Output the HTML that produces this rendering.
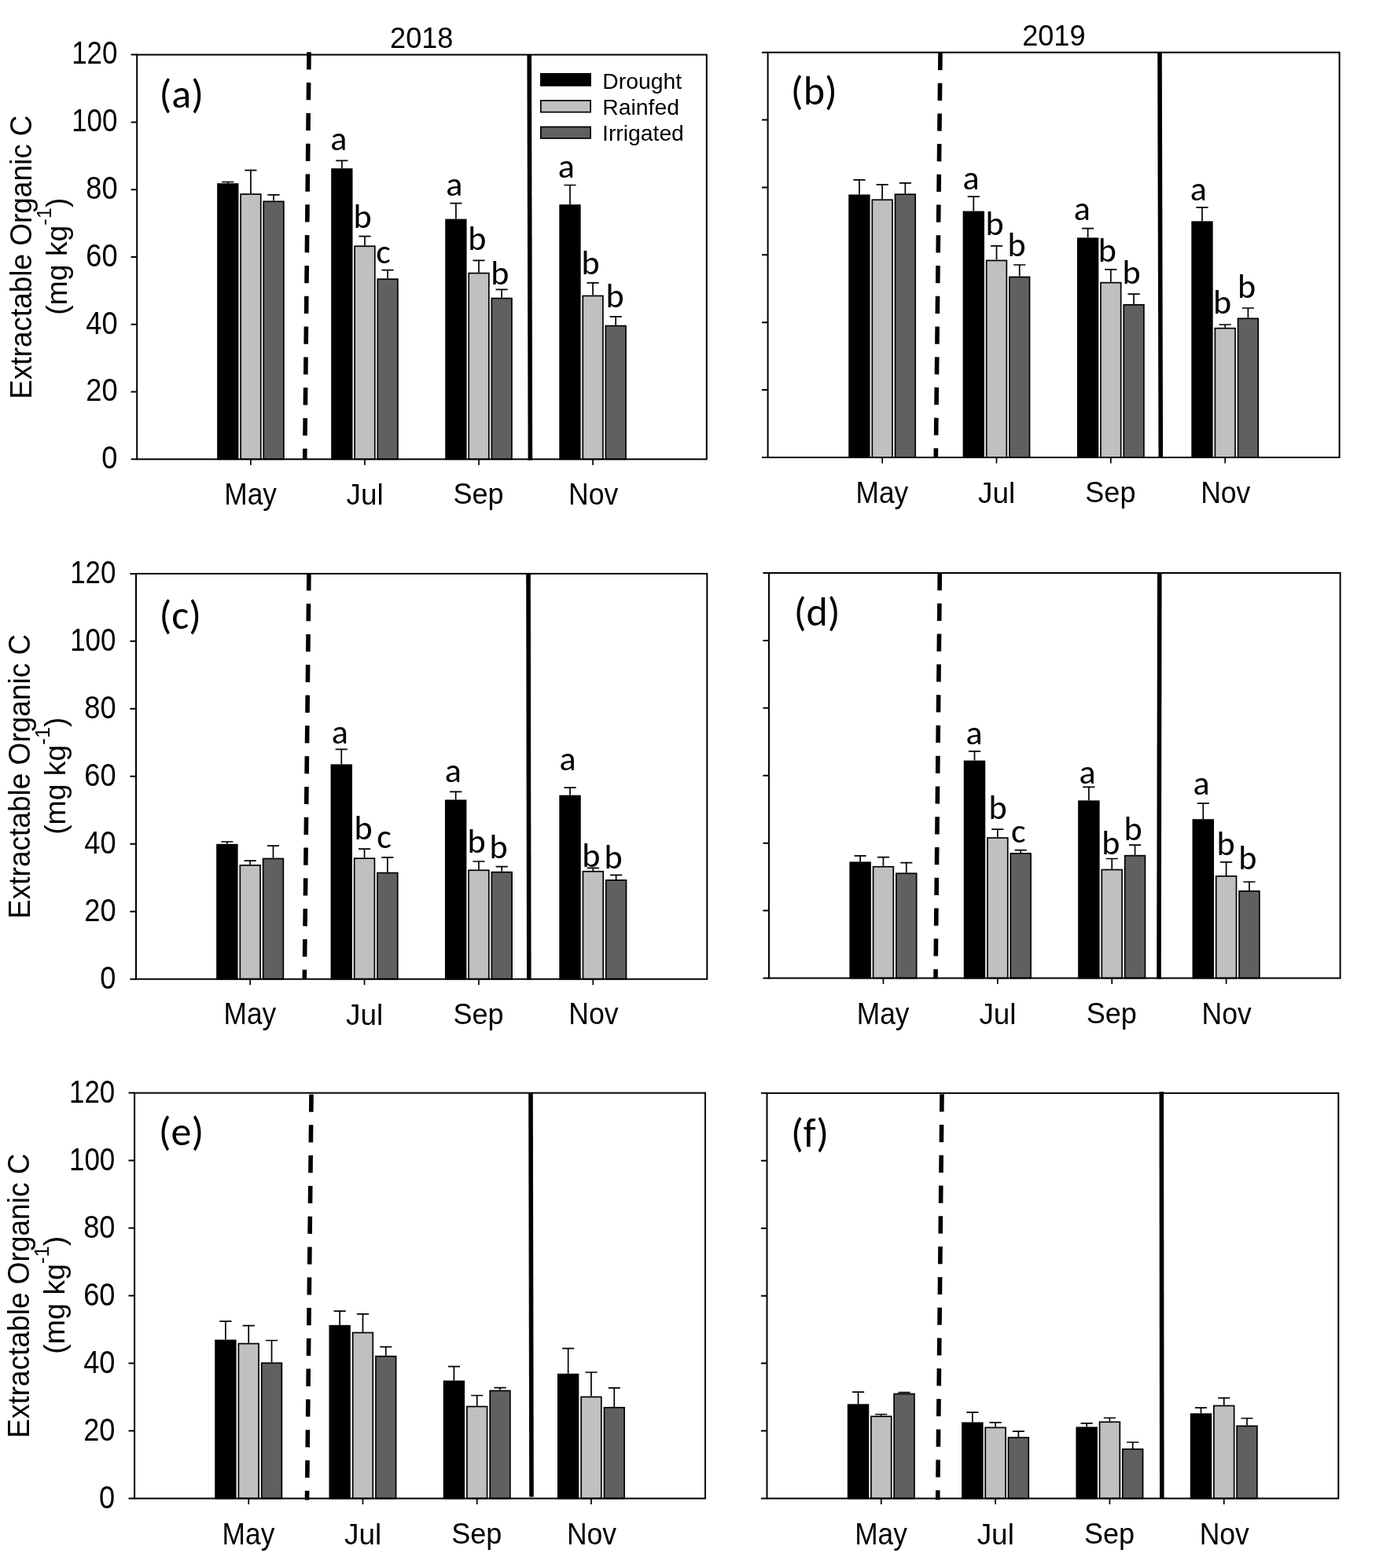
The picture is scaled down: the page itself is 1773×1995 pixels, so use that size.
<!DOCTYPE html>
<html><head><meta charset="utf-8"><title>Extractable Organic C</title>
<style>html,body{margin:0;padding:0;background:#fff;} svg{display:block;} text{fill:#000;}</style>
</head><body>
<svg xmlns="http://www.w3.org/2000/svg" width="1773" height="1995" viewBox="0 0 1773 1995">
<rect x="0" y="0" width="1773" height="1995" fill="#fff"/>
<g id="panel-a">
<rect x="276.99" y="234.05" width="25.62" height="350.25" fill="#000000" stroke="#000" stroke-width="1.7"/>
<path d="M289.80 233.20V231.50M282.20 231.50H297.40" stroke="#000" stroke-width="1.7" fill="none"/>
<rect x="306.10" y="247.05" width="25.62" height="337.25" fill="#c0c0c0" stroke="#000" stroke-width="1.7"/>
<path d="M318.91 246.20V216.60M311.31 216.60H326.51" stroke="#000" stroke-width="1.7" fill="none"/>
<rect x="335.21" y="256.35" width="25.62" height="327.95" fill="#606060" stroke="#000" stroke-width="1.7"/>
<path d="M348.02 255.50V247.90M340.42 247.90H355.62" stroke="#000" stroke-width="1.7" fill="none"/>
<rect x="422.04" y="215.05" width="25.62" height="369.25" fill="#000000" stroke="#000" stroke-width="1.7"/>
<path d="M434.85 214.20V204.40M427.25 204.40H442.45" stroke="#000" stroke-width="1.7" fill="none"/>
<rect x="451.15" y="313.25" width="25.62" height="271.05" fill="#c0c0c0" stroke="#000" stroke-width="1.7"/>
<path d="M463.96 312.40V300.60M456.36 300.60H471.56" stroke="#000" stroke-width="1.7" fill="none"/>
<rect x="480.26" y="355.15" width="25.62" height="229.15" fill="#606060" stroke="#000" stroke-width="1.7"/>
<path d="M493.07 354.30V343.70M485.47 343.70H500.67" stroke="#000" stroke-width="1.7" fill="none"/>
<rect x="567.09" y="279.45" width="25.62" height="304.85" fill="#000000" stroke="#000" stroke-width="1.7"/>
<path d="M579.90 278.60V258.70M572.30 258.70H587.50" stroke="#000" stroke-width="1.7" fill="none"/>
<rect x="596.20" y="347.55" width="25.62" height="236.75" fill="#c0c0c0" stroke="#000" stroke-width="1.7"/>
<path d="M609.01 346.70V331.30M601.41 331.30H616.61" stroke="#000" stroke-width="1.7" fill="none"/>
<rect x="625.31" y="379.55" width="25.62" height="204.75" fill="#606060" stroke="#000" stroke-width="1.7"/>
<path d="M638.12 378.70V368.40M630.52 368.40H645.72" stroke="#000" stroke-width="1.7" fill="none"/>
<rect x="712.14" y="261.05" width="25.62" height="323.25" fill="#000000" stroke="#000" stroke-width="1.7"/>
<path d="M724.95 260.20V235.50M717.35 235.50H732.55" stroke="#000" stroke-width="1.7" fill="none"/>
<rect x="741.25" y="376.45" width="25.62" height="207.85" fill="#c0c0c0" stroke="#000" stroke-width="1.7"/>
<path d="M754.06 375.60V359.80M746.46 359.80H761.66" stroke="#000" stroke-width="1.7" fill="none"/>
<rect x="770.36" y="414.55" width="25.62" height="169.75" fill="#606060" stroke="#000" stroke-width="1.7"/>
<path d="M783.17 413.70V402.90M775.57 402.90H790.77" stroke="#000" stroke-width="1.7" fill="none"/>
<rect x="174.20" y="69.60" width="724.60" height="514.70" fill="none" stroke="#000" stroke-width="2"/>
<path d="M166.60 584.30H174.20M166.60 498.52H174.20M166.60 412.73H174.20M166.60 326.95H174.20M166.60 241.17H174.20M166.60 155.38H174.20M166.60 69.60H174.20" stroke="#000" stroke-width="2" fill="none"/>
<path d="M318.91 584.30V591.80M463.96 584.30V591.80M609.01 584.30V591.80M754.06 584.30V591.80" stroke="#000" stroke-width="1.7" fill="none"/>
<text transform="translate(285.29,641.60) scale(0.9157,1)" font-family="Liberation Sans" font-size="38.56">May</text>
<text transform="translate(440.52,642.23) scale(0.9927,1)" font-family="Liberation Sans" font-size="37.16">Jul</text>
<text transform="translate(576.51,641.13) scale(0.9617,1)" font-family="Liberation Sans" font-size="37.47">Sep</text>
<text transform="translate(723.02,641.81) scale(0.9103,1)" font-family="Liberation Sans" font-size="39.00">Nov</text>
<line x1="393.0" y1="66.3" x2="387.7" y2="584.3" stroke="#000" stroke-width="5.6" stroke-dasharray="22.2 16.61"/>
<line x1="673.2" y1="69.6" x2="674.4" y2="585.5" stroke="#000" stroke-width="5.6"/>
<text transform="translate(420.14,191.30) scale(1.0000,1)" font-family="Carlito" font-size="44.00">a</text>
<text transform="translate(449.52,290.20) scale(1.0000,1)" font-family="Carlito" font-size="44.00">b</text>
<text transform="translate(478.28,334.80) scale(1.0000,1)" font-family="Carlito" font-size="44.00">c</text>
<text transform="translate(567.34,248.70) scale(1.0000,1)" font-family="Carlito" font-size="44.00">a</text>
<text transform="translate(595.32,318.20) scale(1.0000,1)" font-family="Carlito" font-size="44.00">b</text>
<text transform="translate(624.32,362.30) scale(1.0000,1)" font-family="Carlito" font-size="44.00">b</text>
<text transform="translate(709.84,226.00) scale(1.0000,1)" font-family="Carlito" font-size="44.00">a</text>
<text transform="translate(739.42,348.90) scale(1.0000,1)" font-family="Carlito" font-size="44.00">b</text>
<text transform="translate(770.52,391.40) scale(1.0000,1)" font-family="Carlito" font-size="44.00">b</text>
<text transform="translate(202.56,136.82) scale(1.0000,1)" font-family="Carlito" font-size="52.00">(a)</text>
<text transform="translate(129.27,596.10) scale(0.9022,1)" font-family="Liberation Sans" font-size="40.14">0</text>
<text transform="translate(109.35,510.32) scale(0.9022,1)" font-family="Liberation Sans" font-size="40.14">20</text>
<text transform="translate(109.35,424.53) scale(0.9022,1)" font-family="Liberation Sans" font-size="40.14">40</text>
<text transform="translate(109.35,338.75) scale(0.9022,1)" font-family="Liberation Sans" font-size="40.14">60</text>
<text transform="translate(109.35,252.97) scale(0.9022,1)" font-family="Liberation Sans" font-size="40.14">80</text>
<text transform="translate(91.21,167.18) scale(0.8665,1)" font-family="Liberation Sans" font-size="40.28">100</text>
<text transform="translate(91.21,81.40) scale(0.8665,1)" font-family="Liberation Sans" font-size="40.28">120</text>
</g>
<g id="panel-b">
<rect x="1080.10" y="248.35" width="25.67" height="333.65" fill="#000000" stroke="#000" stroke-width="1.7"/>
<path d="M1092.94 247.50V228.80M1085.34 228.80H1100.54" stroke="#000" stroke-width="1.7" fill="none"/>
<rect x="1109.31" y="254.25" width="25.67" height="327.75" fill="#c0c0c0" stroke="#000" stroke-width="1.7"/>
<path d="M1122.15 253.40V234.90M1114.55 234.90H1129.75" stroke="#000" stroke-width="1.7" fill="none"/>
<rect x="1138.53" y="247.25" width="25.67" height="334.75" fill="#606060" stroke="#000" stroke-width="1.7"/>
<path d="M1151.36 246.40V232.90M1143.76 232.90H1158.96" stroke="#000" stroke-width="1.7" fill="none"/>
<rect x="1225.45" y="269.45" width="25.67" height="312.55" fill="#000000" stroke="#000" stroke-width="1.7"/>
<path d="M1238.29 268.60V250.10M1230.69 250.10H1245.89" stroke="#000" stroke-width="1.7" fill="none"/>
<rect x="1254.66" y="331.45" width="25.67" height="250.55" fill="#c0c0c0" stroke="#000" stroke-width="1.7"/>
<path d="M1267.50 330.60V312.80M1259.90 312.80H1275.10" stroke="#000" stroke-width="1.7" fill="none"/>
<rect x="1283.87" y="352.45" width="25.67" height="229.55" fill="#606060" stroke="#000" stroke-width="1.7"/>
<path d="M1296.71 351.60V337.00M1289.11 337.00H1304.31" stroke="#000" stroke-width="1.7" fill="none"/>
<rect x="1370.79" y="303.25" width="25.67" height="278.75" fill="#000000" stroke="#000" stroke-width="1.7"/>
<path d="M1383.63 302.40V290.60M1376.03 290.60H1391.23" stroke="#000" stroke-width="1.7" fill="none"/>
<rect x="1400.01" y="359.65" width="25.67" height="222.35" fill="#c0c0c0" stroke="#000" stroke-width="1.7"/>
<path d="M1412.84 358.80V342.80M1405.24 342.80H1420.44" stroke="#000" stroke-width="1.7" fill="none"/>
<rect x="1429.22" y="387.75" width="25.67" height="194.25" fill="#606060" stroke="#000" stroke-width="1.7"/>
<path d="M1442.06 386.90V374.10M1434.46 374.10H1449.66" stroke="#000" stroke-width="1.7" fill="none"/>
<rect x="1516.14" y="282.25" width="25.67" height="299.75" fill="#000000" stroke="#000" stroke-width="1.7"/>
<path d="M1528.98 281.40V263.90M1521.38 263.90H1536.58" stroke="#000" stroke-width="1.7" fill="none"/>
<rect x="1545.35" y="417.65" width="25.67" height="164.35" fill="#c0c0c0" stroke="#000" stroke-width="1.7"/>
<path d="M1558.19 416.80V413.00M1550.59 413.00H1565.79" stroke="#000" stroke-width="1.7" fill="none"/>
<rect x="1574.57" y="405.25" width="25.67" height="176.75" fill="#606060" stroke="#000" stroke-width="1.7"/>
<path d="M1587.40 404.40V392.00M1579.80 392.00H1595.00" stroke="#000" stroke-width="1.7" fill="none"/>
<rect x="976.60" y="66.70" width="727.00" height="515.30" fill="none" stroke="#000" stroke-width="2"/>
<path d="M969.00 582.00H976.60M969.00 496.12H976.60M969.00 410.23H976.60M969.00 324.35H976.60M969.00 238.47H976.60M969.00 152.58H976.60M969.00 66.70H976.60" stroke="#000" stroke-width="2" fill="none"/>
<path d="M1122.15 582.00V589.50M1267.50 582.00V589.50M1412.84 582.00V589.50M1558.19 582.00V589.50" stroke="#000" stroke-width="1.7" fill="none"/>
<text transform="translate(1088.53,639.80) scale(0.9157,1)" font-family="Liberation Sans" font-size="38.56">May</text>
<text transform="translate(1244.06,640.43) scale(0.9927,1)" font-family="Liberation Sans" font-size="37.16">Jul</text>
<text transform="translate(1380.34,639.33) scale(0.9617,1)" font-family="Liberation Sans" font-size="37.47">Sep</text>
<text transform="translate(1527.15,640.01) scale(0.9103,1)" font-family="Liberation Sans" font-size="39.00">Nov</text>
<line x1="1196.0" y1="67.0" x2="1190.3" y2="582.0" stroke="#000" stroke-width="5.6" stroke-dasharray="22.2 16.52"/>
<line x1="1475.0" y1="66.4" x2="1476.3" y2="582.0" stroke="#000" stroke-width="5.6"/>
<text transform="translate(1224.44,240.90) scale(1.0000,1)" font-family="Carlito" font-size="44.00">a</text>
<text transform="translate(1253.42,298.80) scale(1.0000,1)" font-family="Carlito" font-size="44.00">b</text>
<text transform="translate(1281.52,325.70) scale(1.0000,1)" font-family="Carlito" font-size="44.00">b</text>
<text transform="translate(1365.64,280.20) scale(1.0000,1)" font-family="Carlito" font-size="44.00">a</text>
<text transform="translate(1396.72,332.80) scale(1.0000,1)" font-family="Carlito" font-size="44.00">b</text>
<text transform="translate(1427.52,361.10) scale(1.0000,1)" font-family="Carlito" font-size="44.00">b</text>
<text transform="translate(1513.64,254.70) scale(1.0000,1)" font-family="Carlito" font-size="44.00">a</text>
<text transform="translate(1542.92,398.90) scale(1.0000,1)" font-family="Carlito" font-size="44.00">b</text>
<text transform="translate(1574.02,379.00) scale(1.0000,1)" font-family="Carlito" font-size="44.00">b</text>
<text transform="translate(1005.86,133.12) scale(1.0000,1)" font-family="Carlito" font-size="52.00">(b)</text>
</g>
<g id="panel-c">
<rect x="276.01" y="1074.65" width="25.74" height="171.05" fill="#000000" stroke="#000" stroke-width="1.7"/>
<path d="M288.88 1073.80V1071.00M281.28 1071.00H296.48" stroke="#000" stroke-width="1.7" fill="none"/>
<rect x="305.30" y="1100.95" width="25.74" height="144.75" fill="#c0c0c0" stroke="#000" stroke-width="1.7"/>
<path d="M318.17 1100.10V1095.20M310.57 1095.20H325.77" stroke="#000" stroke-width="1.7" fill="none"/>
<rect x="334.59" y="1092.45" width="25.74" height="153.25" fill="#606060" stroke="#000" stroke-width="1.7"/>
<path d="M347.46 1091.60V1076.10M339.86 1076.10H355.06" stroke="#000" stroke-width="1.7" fill="none"/>
<rect x="421.40" y="973.25" width="25.74" height="272.45" fill="#000000" stroke="#000" stroke-width="1.7"/>
<path d="M434.27 972.40V953.30M426.67 953.30H441.87" stroke="#000" stroke-width="1.7" fill="none"/>
<rect x="450.68" y="1092.15" width="25.74" height="153.55" fill="#c0c0c0" stroke="#000" stroke-width="1.7"/>
<path d="M463.55 1091.30V1080.10M455.95 1080.10H471.15" stroke="#000" stroke-width="1.7" fill="none"/>
<rect x="479.97" y="1110.55" width="25.74" height="135.15" fill="#606060" stroke="#000" stroke-width="1.7"/>
<path d="M492.84 1109.70V1090.80M485.24 1090.80H500.44" stroke="#000" stroke-width="1.7" fill="none"/>
<rect x="566.78" y="1018.35" width="25.74" height="227.35" fill="#000000" stroke="#000" stroke-width="1.7"/>
<path d="M579.65 1017.50V1007.30M572.05 1007.30H587.25" stroke="#000" stroke-width="1.7" fill="none"/>
<rect x="596.07" y="1107.25" width="25.74" height="138.45" fill="#c0c0c0" stroke="#000" stroke-width="1.7"/>
<path d="M608.94 1106.40V1096.00M601.34 1096.00H616.54" stroke="#000" stroke-width="1.7" fill="none"/>
<rect x="625.35" y="1109.65" width="25.74" height="136.05" fill="#606060" stroke="#000" stroke-width="1.7"/>
<path d="M638.22 1108.80V1102.60M630.62 1102.60H645.82" stroke="#000" stroke-width="1.7" fill="none"/>
<rect x="712.16" y="1012.55" width="25.74" height="233.15" fill="#000000" stroke="#000" stroke-width="1.7"/>
<path d="M725.03 1011.70V1002.20M717.43 1002.20H732.63" stroke="#000" stroke-width="1.7" fill="none"/>
<rect x="741.45" y="1108.75" width="25.74" height="136.95" fill="#c0c0c0" stroke="#000" stroke-width="1.7"/>
<path d="M754.32 1107.90V1104.40M746.72 1104.40H761.92" stroke="#000" stroke-width="1.7" fill="none"/>
<rect x="770.74" y="1119.85" width="25.74" height="125.85" fill="#606060" stroke="#000" stroke-width="1.7"/>
<path d="M783.61 1119.00V1113.40M776.01 1113.40H791.21" stroke="#000" stroke-width="1.7" fill="none"/>
<rect x="173.00" y="729.90" width="726.30" height="515.80" fill="none" stroke="#000" stroke-width="2"/>
<path d="M165.40 1245.70H173.00M165.40 1159.73H173.00M165.40 1073.77H173.00M165.40 987.80H173.00M165.40 901.83H173.00M165.40 815.87H173.00M165.40 729.90H173.00" stroke="#000" stroke-width="2" fill="none"/>
<path d="M318.17 1245.70V1253.20M463.55 1245.70V1253.20M608.94 1245.70V1253.20M754.32 1245.70V1253.20" stroke="#000" stroke-width="1.7" fill="none"/>
<text transform="translate(284.55,1303.20) scale(0.9157,1)" font-family="Liberation Sans" font-size="38.56">May</text>
<text transform="translate(440.12,1303.83) scale(0.9927,1)" font-family="Liberation Sans" font-size="37.16">Jul</text>
<text transform="translate(576.44,1302.73) scale(0.9617,1)" font-family="Liberation Sans" font-size="37.47">Sep</text>
<text transform="translate(723.28,1303.41) scale(0.9103,1)" font-family="Liberation Sans" font-size="39.00">Nov</text>
<line x1="392.9" y1="729.3" x2="387.3" y2="1245.7" stroke="#000" stroke-width="5.6" stroke-dasharray="22.2 16.61"/>
<line x1="672.0" y1="729.9" x2="672.8" y2="1246.5" stroke="#000" stroke-width="5.6"/>
<text transform="translate(421.84,945.70) scale(1.0000,1)" font-family="Carlito" font-size="44.00">a</text>
<text transform="translate(450.42,1068.00) scale(1.0000,1)" font-family="Carlito" font-size="44.00">b</text>
<text transform="translate(479.28,1079.00) scale(1.0000,1)" font-family="Carlito" font-size="44.00">c</text>
<text transform="translate(565.64,995.10) scale(1.0000,1)" font-family="Carlito" font-size="44.00">a</text>
<text transform="translate(594.52,1085.10) scale(1.0000,1)" font-family="Carlito" font-size="44.00">b</text>
<text transform="translate(622.52,1091.90) scale(1.0000,1)" font-family="Carlito" font-size="44.00">b</text>
<text transform="translate(711.44,980.20) scale(1.0000,1)" font-family="Carlito" font-size="44.00">a</text>
<text transform="translate(740.22,1102.50) scale(1.0000,1)" font-family="Carlito" font-size="44.00">b</text>
<text transform="translate(768.52,1104.50) scale(1.0000,1)" font-family="Carlito" font-size="44.00">b</text>
<text transform="translate(202.56,800.02) scale(1.0000,1)" font-family="Carlito" font-size="52.00">(c)</text>
<text transform="translate(127.27,1257.60) scale(0.9022,1)" font-family="Liberation Sans" font-size="40.14">0</text>
<text transform="translate(107.35,1171.63) scale(0.9022,1)" font-family="Liberation Sans" font-size="40.14">20</text>
<text transform="translate(107.35,1085.67) scale(0.9022,1)" font-family="Liberation Sans" font-size="40.14">40</text>
<text transform="translate(107.35,999.70) scale(0.9022,1)" font-family="Liberation Sans" font-size="40.14">60</text>
<text transform="translate(107.35,913.73) scale(0.9022,1)" font-family="Liberation Sans" font-size="40.14">80</text>
<text transform="translate(89.21,827.76) scale(0.8665,1)" font-family="Liberation Sans" font-size="40.28">100</text>
<text transform="translate(89.21,741.80) scale(0.8665,1)" font-family="Liberation Sans" font-size="40.28">120</text>
</g>
<g id="panel-d">
<rect x="1081.20" y="1097.25" width="25.79" height="147.25" fill="#000000" stroke="#000" stroke-width="1.7"/>
<path d="M1094.10 1096.40V1088.90M1086.50 1088.90H1101.70" stroke="#000" stroke-width="1.7" fill="none"/>
<rect x="1110.54" y="1102.75" width="25.79" height="141.75" fill="#c0c0c0" stroke="#000" stroke-width="1.7"/>
<path d="M1123.44 1101.90V1090.70M1115.84 1090.70H1131.04" stroke="#000" stroke-width="1.7" fill="none"/>
<rect x="1139.88" y="1111.25" width="25.79" height="133.25" fill="#606060" stroke="#000" stroke-width="1.7"/>
<path d="M1152.77 1110.40V1097.60M1145.17 1097.60H1160.37" stroke="#000" stroke-width="1.7" fill="none"/>
<rect x="1226.59" y="968.45" width="25.79" height="276.05" fill="#000000" stroke="#000" stroke-width="1.7"/>
<path d="M1239.49 967.60V955.80M1231.89 955.80H1247.09" stroke="#000" stroke-width="1.7" fill="none"/>
<rect x="1255.93" y="1066.05" width="25.79" height="178.45" fill="#c0c0c0" stroke="#000" stroke-width="1.7"/>
<path d="M1268.83 1065.20V1055.10M1261.23 1055.10H1276.43" stroke="#000" stroke-width="1.7" fill="none"/>
<rect x="1285.27" y="1085.85" width="25.79" height="158.65" fill="#606060" stroke="#000" stroke-width="1.7"/>
<path d="M1298.16 1085.00V1081.70M1290.56 1081.70H1305.76" stroke="#000" stroke-width="1.7" fill="none"/>
<rect x="1371.98" y="1019.25" width="25.79" height="225.25" fill="#000000" stroke="#000" stroke-width="1.7"/>
<path d="M1384.88 1018.40V1001.30M1377.28 1001.30H1392.48" stroke="#000" stroke-width="1.7" fill="none"/>
<rect x="1401.32" y="1106.55" width="25.79" height="137.95" fill="#c0c0c0" stroke="#000" stroke-width="1.7"/>
<path d="M1414.22 1105.70V1092.50M1406.62 1092.50H1421.82" stroke="#000" stroke-width="1.7" fill="none"/>
<rect x="1430.66" y="1088.65" width="25.79" height="155.85" fill="#606060" stroke="#000" stroke-width="1.7"/>
<path d="M1443.55 1087.80V1075.20M1435.95 1075.20H1451.15" stroke="#000" stroke-width="1.7" fill="none"/>
<rect x="1517.37" y="1043.05" width="25.79" height="201.45" fill="#000000" stroke="#000" stroke-width="1.7"/>
<path d="M1530.27 1042.20V1022.20M1522.67 1022.20H1537.87" stroke="#000" stroke-width="1.7" fill="none"/>
<rect x="1546.71" y="1114.75" width="25.79" height="129.75" fill="#c0c0c0" stroke="#000" stroke-width="1.7"/>
<path d="M1559.61 1113.90V1096.80M1552.01 1096.80H1567.21" stroke="#000" stroke-width="1.7" fill="none"/>
<rect x="1576.05" y="1133.75" width="25.79" height="110.75" fill="#606060" stroke="#000" stroke-width="1.7"/>
<path d="M1588.94 1132.90V1122.00M1581.34 1122.00H1596.54" stroke="#000" stroke-width="1.7" fill="none"/>
<rect x="978.00" y="729.00" width="726.60" height="515.50" fill="none" stroke="#000" stroke-width="2"/>
<path d="M970.40 1244.50H978.00M970.40 1158.58H978.00M970.40 1072.67H978.00M970.40 986.75H978.00M970.40 900.83H978.00M970.40 814.92H978.00M970.40 729.00H978.00" stroke="#000" stroke-width="2" fill="none"/>
<path d="M1123.44 1244.50V1252.00M1268.83 1244.50V1252.00M1414.22 1244.50V1252.00M1559.61 1244.50V1252.00" stroke="#000" stroke-width="1.7" fill="none"/>
<text transform="translate(1089.81,1302.50) scale(0.9157,1)" font-family="Liberation Sans" font-size="38.56">May</text>
<text transform="translate(1245.39,1303.13) scale(0.9927,1)" font-family="Liberation Sans" font-size="37.16">Jul</text>
<text transform="translate(1381.71,1302.03) scale(0.9617,1)" font-family="Liberation Sans" font-size="37.47">Sep</text>
<text transform="translate(1528.57,1302.71) scale(0.9103,1)" font-family="Liberation Sans" font-size="39.00">Nov</text>
<line x1="1195.3" y1="729.0" x2="1190.0" y2="1245.2" stroke="#000" stroke-width="5.6" stroke-dasharray="22.2 16.58"/>
<line x1="1474.8" y1="729.0" x2="1474.0" y2="1245.5" stroke="#000" stroke-width="5.6"/>
<text transform="translate(1228.44,947.20) scale(1.0000,1)" font-family="Carlito" font-size="44.00">a</text>
<text transform="translate(1257.42,1042.10) scale(1.0000,1)" font-family="Carlito" font-size="44.00">b</text>
<text transform="translate(1286.08,1071.70) scale(1.0000,1)" font-family="Carlito" font-size="44.00">c</text>
<text transform="translate(1372.54,996.70) scale(1.0000,1)" font-family="Carlito" font-size="44.00">a</text>
<text transform="translate(1401.32,1087.00) scale(1.0000,1)" font-family="Carlito" font-size="44.00">b</text>
<text transform="translate(1429.42,1068.70) scale(1.0000,1)" font-family="Carlito" font-size="44.00">b</text>
<text transform="translate(1517.54,1011.10) scale(1.0000,1)" font-family="Carlito" font-size="44.00">a</text>
<text transform="translate(1547.42,1087.80) scale(1.0000,1)" font-family="Carlito" font-size="44.00">b</text>
<text transform="translate(1575.32,1105.80) scale(1.0000,1)" font-family="Carlito" font-size="44.00">b</text>
<text transform="translate(1009.66,795.92) scale(1.0000,1)" font-family="Carlito" font-size="52.00">(d)</text>
</g>
<g id="panel-e">
<rect x="274.08" y="1705.35" width="25.64" height="201.15" fill="#000000" stroke="#000" stroke-width="1.7"/>
<path d="M286.91 1704.50V1681.20M279.31 1681.20H294.51" stroke="#000" stroke-width="1.7" fill="none"/>
<rect x="303.40" y="1709.55" width="25.64" height="196.95" fill="#c0c0c0" stroke="#000" stroke-width="1.7"/>
<path d="M316.22 1708.70V1686.60M308.62 1686.60H323.82" stroke="#000" stroke-width="1.7" fill="none"/>
<rect x="332.71" y="1734.25" width="25.64" height="172.25" fill="#606060" stroke="#000" stroke-width="1.7"/>
<path d="M345.53 1733.40V1705.50M337.93 1705.50H353.13" stroke="#000" stroke-width="1.7" fill="none"/>
<rect x="419.33" y="1686.75" width="25.64" height="219.75" fill="#000000" stroke="#000" stroke-width="1.7"/>
<path d="M432.15 1685.90V1668.10M424.55 1668.10H439.75" stroke="#000" stroke-width="1.7" fill="none"/>
<rect x="448.64" y="1695.55" width="25.64" height="210.95" fill="#c0c0c0" stroke="#000" stroke-width="1.7"/>
<path d="M461.46 1694.70V1671.80M453.86 1671.80H469.06" stroke="#000" stroke-width="1.7" fill="none"/>
<rect x="477.96" y="1725.65" width="25.64" height="180.85" fill="#606060" stroke="#000" stroke-width="1.7"/>
<path d="M490.78 1724.80V1713.60M483.18 1713.60H498.38" stroke="#000" stroke-width="1.7" fill="none"/>
<rect x="564.58" y="1757.35" width="25.64" height="149.15" fill="#000000" stroke="#000" stroke-width="1.7"/>
<path d="M577.40 1756.50V1738.60M569.80 1738.60H585.00" stroke="#000" stroke-width="1.7" fill="none"/>
<rect x="593.89" y="1789.55" width="25.64" height="116.95" fill="#c0c0c0" stroke="#000" stroke-width="1.7"/>
<path d="M606.71 1788.70V1775.50M599.11 1775.50H614.31" stroke="#000" stroke-width="1.7" fill="none"/>
<rect x="623.20" y="1769.45" width="25.64" height="137.05" fill="#606060" stroke="#000" stroke-width="1.7"/>
<path d="M636.02 1768.60V1765.70M628.42 1765.70H643.62" stroke="#000" stroke-width="1.7" fill="none"/>
<rect x="709.82" y="1748.55" width="25.64" height="157.95" fill="#000000" stroke="#000" stroke-width="1.7"/>
<path d="M722.64 1747.70V1715.60M715.04 1715.60H730.24" stroke="#000" stroke-width="1.7" fill="none"/>
<rect x="739.14" y="1777.35" width="25.64" height="129.15" fill="#c0c0c0" stroke="#000" stroke-width="1.7"/>
<path d="M751.96 1776.50V1746.00M744.36 1746.00H759.56" stroke="#000" stroke-width="1.7" fill="none"/>
<rect x="768.45" y="1790.85" width="25.64" height="115.65" fill="#606060" stroke="#000" stroke-width="1.7"/>
<path d="M781.27 1790.00V1765.80M773.67 1765.80H788.87" stroke="#000" stroke-width="1.7" fill="none"/>
<rect x="171.10" y="1390.60" width="725.90" height="515.90" fill="none" stroke="#000" stroke-width="2"/>
<path d="M163.50 1906.50H171.10M163.50 1820.52H171.10M163.50 1734.53H171.10M163.50 1648.55H171.10M163.50 1562.57H171.10M163.50 1476.58H171.10M163.50 1390.60H171.10" stroke="#000" stroke-width="2" fill="none"/>
<path d="M316.22 1906.50V1914.00M461.46 1906.50V1914.00M606.71 1906.50V1914.00M751.96 1906.50V1914.00" stroke="#000" stroke-width="1.7" fill="none"/>
<text transform="translate(282.59,1964.80) scale(0.9157,1)" font-family="Liberation Sans" font-size="38.56">May</text>
<text transform="translate(438.03,1965.43) scale(0.9927,1)" font-family="Liberation Sans" font-size="37.16">Jul</text>
<text transform="translate(574.21,1964.33) scale(0.9617,1)" font-family="Liberation Sans" font-size="37.47">Sep</text>
<text transform="translate(720.92,1965.01) scale(0.9103,1)" font-family="Liberation Sans" font-size="39.00">Nov</text>
<line x1="396.0" y1="1392.5" x2="390.5" y2="1908.5" stroke="#000" stroke-width="5.6" stroke-dasharray="22.2 16.59"/>
<line x1="675.0" y1="1390.6" x2="676.0" y2="1904.6" stroke="#000" stroke-width="5.6"/>
<text transform="translate(201.76,1456.62) scale(1.0000,1)" font-family="Carlito" font-size="52.00">(e)</text>
<text transform="translate(126.07,1918.50) scale(0.9022,1)" font-family="Liberation Sans" font-size="40.14">0</text>
<text transform="translate(106.15,1832.52) scale(0.9022,1)" font-family="Liberation Sans" font-size="40.14">20</text>
<text transform="translate(106.15,1746.53) scale(0.9022,1)" font-family="Liberation Sans" font-size="40.14">40</text>
<text transform="translate(106.15,1660.55) scale(0.9022,1)" font-family="Liberation Sans" font-size="40.14">60</text>
<text transform="translate(106.15,1574.57) scale(0.9022,1)" font-family="Liberation Sans" font-size="40.14">80</text>
<text transform="translate(88.01,1488.58) scale(0.8665,1)" font-family="Liberation Sans" font-size="40.28">100</text>
<text transform="translate(88.01,1402.60) scale(0.8665,1)" font-family="Liberation Sans" font-size="40.28">120</text>
</g>
<g id="panel-f">
<rect x="1078.65" y="1787.25" width="25.78" height="119.25" fill="#000000" stroke="#000" stroke-width="1.7"/>
<path d="M1091.55 1786.40V1771.20M1083.95 1771.20H1099.15" stroke="#000" stroke-width="1.7" fill="none"/>
<rect x="1107.90" y="1802.15" width="25.78" height="104.35" fill="#c0c0c0" stroke="#000" stroke-width="1.7"/>
<path d="M1120.80 1801.30V1799.50M1113.20 1799.50H1128.39" stroke="#000" stroke-width="1.7" fill="none"/>
<rect x="1137.15" y="1773.45" width="25.78" height="133.05" fill="#606060" stroke="#000" stroke-width="1.7"/>
<path d="M1150.04 1772.60V1771.60M1142.44 1771.60H1157.64" stroke="#000" stroke-width="1.7" fill="none"/>
<rect x="1223.97" y="1810.35" width="25.78" height="96.15" fill="#000000" stroke="#000" stroke-width="1.7"/>
<path d="M1236.87 1809.50V1796.90M1229.27 1796.90H1244.46" stroke="#000" stroke-width="1.7" fill="none"/>
<rect x="1253.22" y="1816.35" width="25.78" height="90.15" fill="#c0c0c0" stroke="#000" stroke-width="1.7"/>
<path d="M1266.11 1815.50V1809.90M1258.51 1809.90H1273.71" stroke="#000" stroke-width="1.7" fill="none"/>
<rect x="1282.47" y="1829.05" width="25.78" height="77.45" fill="#606060" stroke="#000" stroke-width="1.7"/>
<path d="M1295.36 1828.20V1821.10M1287.76 1821.10H1302.96" stroke="#000" stroke-width="1.7" fill="none"/>
<rect x="1369.29" y="1816.25" width="25.78" height="90.25" fill="#000000" stroke="#000" stroke-width="1.7"/>
<path d="M1382.18 1815.40V1810.80M1374.58 1810.80H1389.78" stroke="#000" stroke-width="1.7" fill="none"/>
<rect x="1398.54" y="1809.25" width="25.78" height="97.25" fill="#c0c0c0" stroke="#000" stroke-width="1.7"/>
<path d="M1411.43 1808.40V1804.00M1403.83 1804.00H1419.03" stroke="#000" stroke-width="1.7" fill="none"/>
<rect x="1427.79" y="1843.75" width="25.78" height="62.75" fill="#606060" stroke="#000" stroke-width="1.7"/>
<path d="M1440.68 1842.90V1835.00M1433.08 1835.00H1448.28" stroke="#000" stroke-width="1.7" fill="none"/>
<rect x="1514.61" y="1799.05" width="25.78" height="107.45" fill="#000000" stroke="#000" stroke-width="1.7"/>
<path d="M1527.50 1798.20V1791.10M1519.90 1791.10H1535.10" stroke="#000" stroke-width="1.7" fill="none"/>
<rect x="1543.86" y="1788.55" width="25.78" height="117.95" fill="#c0c0c0" stroke="#000" stroke-width="1.7"/>
<path d="M1556.75 1787.70V1778.60M1549.15 1778.60H1564.35" stroke="#000" stroke-width="1.7" fill="none"/>
<rect x="1573.11" y="1814.35" width="25.78" height="92.15" fill="#606060" stroke="#000" stroke-width="1.7"/>
<path d="M1586.00 1813.50V1804.50M1578.40 1804.50H1593.60" stroke="#000" stroke-width="1.7" fill="none"/>
<rect x="975.50" y="1390.80" width="726.80" height="515.70" fill="none" stroke="#000" stroke-width="2"/>
<path d="M967.90 1906.50H975.50M967.90 1820.55H975.50M967.90 1734.60H975.50M967.90 1648.65H975.50M967.90 1562.70H975.50M967.90 1476.75H975.50M967.90 1390.80H975.50" stroke="#000" stroke-width="2" fill="none"/>
<path d="M1120.80 1906.50V1914.00M1266.11 1906.50V1914.00M1411.43 1906.50V1914.00M1556.75 1906.50V1914.00" stroke="#000" stroke-width="1.7" fill="none"/>
<text transform="translate(1087.17,1964.80) scale(0.9157,1)" font-family="Liberation Sans" font-size="38.56">May</text>
<text transform="translate(1242.68,1965.43) scale(0.9927,1)" font-family="Liberation Sans" font-size="37.16">Jul</text>
<text transform="translate(1378.93,1964.33) scale(0.9617,1)" font-family="Liberation Sans" font-size="37.47">Sep</text>
<text transform="translate(1525.71,1965.01) scale(0.9103,1)" font-family="Liberation Sans" font-size="39.00">Nov</text>
<line x1="1198.0" y1="1392.3" x2="1192.7" y2="1908.2" stroke="#000" stroke-width="5.6" stroke-dasharray="22.2 16.56"/>
<line x1="1477.3" y1="1389.0" x2="1477.8" y2="1907.0" stroke="#000" stroke-width="5.6"/>
<text transform="translate(1005.96,1458.62) scale(1.0000,1)" font-family="Carlito" font-size="52.00">(f)</text>
</g>
<rect x="687.85" y="93.85" width="63.20" height="15.10" fill="#000000" stroke="#000" stroke-width="1.7"/>
<rect x="687.85" y="127.95" width="63.20" height="14.70" fill="#c0c0c0" stroke="#000" stroke-width="1.7"/>
<rect x="687.85" y="161.45" width="63.20" height="14.50" fill="#606060" stroke="#000" stroke-width="1.7"/>
<text transform="translate(766.34,113.10) scale(1.0000,1)" font-family="Liberation Sans" font-size="28.30">Drought</text>
<text transform="translate(766.34,145.60) scale(1.0000,1)" font-family="Liberation Sans" font-size="28.30">Rainfed</text>
<text transform="translate(766.05,179.10) scale(1.0000,1)" font-family="Liberation Sans" font-size="28.30">Irrigated</text>
<text transform="translate(496.09,60.52) scale(0.9600,1)" font-family="Liberation Sans" font-size="37.61">2018</text>
<text transform="translate(1300.19,57.52) scale(0.9600,1)" font-family="Liberation Sans" font-size="37.61">2019</text>
<text transform="translate(39.60,507.65) rotate(-90) scale(0.9591,1)" font-family="Liberation Sans" font-size="38.50">Extractable Organic C</text>
<text transform="translate(85.20,400.64) rotate(-90) scale(1.0085,1)" font-family="Liberation Sans" font-size="37.00">(mg kg<tspan font-size="0.68em" dy="-0.794em">-1</tspan><tspan dy="0.54em">)</tspan></text>
<text transform="translate(37.60,1168.96) rotate(-90) scale(0.9626,1)" font-family="Liberation Sans" font-size="38.50">Extractable Organic C</text>
<text transform="translate(83.30,1061.84) rotate(-90) scale(1.0098,1)" font-family="Liberation Sans" font-size="37.00">(mg kg<tspan font-size="0.68em" dy="-0.794em">-1</tspan><tspan dy="0.54em">)</tspan></text>
<text transform="translate(36.60,1829.76) rotate(-90) scale(0.9621,1)" font-family="Liberation Sans" font-size="38.50">Extractable Organic C</text>
<text transform="translate(82.20,1722.76) rotate(-90) scale(1.0161,1)" font-family="Liberation Sans" font-size="37.00">(mg kg<tspan font-size="0.68em" dy="-0.794em">-1</tspan><tspan dy="0.54em">)</tspan></text>
</svg>
</body></html>
